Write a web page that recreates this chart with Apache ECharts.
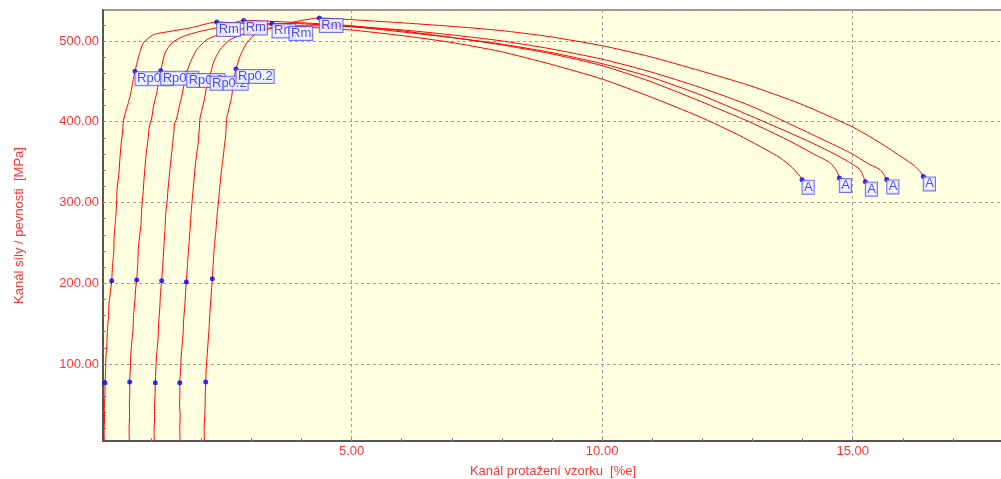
<!DOCTYPE html>
<html><head><meta charset="utf-8">
<script src="https://cdn.jsdelivr.net/npm/echarts@6/dist/echarts.min.js"></script>
<style>html,body{margin:0;padding:0;background:#fff}#c{width:1001px;height:479px}</style>
</head><body><div id="c"></div>
<script>
const xTitle = 'Kanál protažení vzorku  [%e]';
const yTitle = 'Kanál síly / pevnosti  [MPa]';
const xLabelValues = [5, 10, 15];
const xTickValues = [1, 2, 3, 4, 5, 6, 7, 8, 9, 10, 11, 12, 13, 14, 15, 16, 17];
const yLabelValues = [100, 200, 300, 400, 500];
const yTickValues = [20, 40, 60, 80, 100, 120, 140, 160, 180, 200, 220, 240, 260, 280, 300, 320, 340, 360, 380, 400, 420, 440, 460, 480, 500, 520];

const curve1 = [[0.066,5],[0.062,18],[0.072,32],[0.066,45],[0.078,60],[0.080,76.8],[0.092,92],[0.098,108],[0.118,125],[0.126,140],[0.150,160],[0.160,175],[0.190,190],[0.214,203.2],[0.228,220],[0.256,240],[0.262,258],[0.290,278],[0.313,300.1],[0.322,318],[0.356,335],[0.376,353],[0.398,370],[0.428,386],[0.445,399.7],[0.479,410],[0.540,422],[0.579,431.4],[0.645,452.1],[0.679,462.4],[0.744,478.9],[0.844,497.5],[1.044,507.8],[1.377,511.9],[1.776,516.1],[2.309,523.5],[2.974,521.4],[3.972,517.7],[5.003,513.5],[5.967,507.0],[6.965,498.5],[7.963,487.1],[8.961,471.5],[10.0,452.9],[10.958,431.0],[11.956,405.9],[12.752,382.7],[13.55,355.5],[13.8,343],[13.95,332.3],[13.99,328.2]];
const curve2 = [[0.565,5],[0.560,20],[0.570,35],[0.566,50],[0.575,64],[0.573,77.7],[0.585,95],[0.592,110],[0.612,126],[0.639,142.5],[0.650,160],[0.676,178],[0.690,192],[0.712,204.0],[0.735,225],[0.748,245],[0.778,262],[0.798,272.5],[0.812,292],[0.838,310],[0.858,328.2],[0.880,345],[0.905,362],[0.938,377.8],[0.960,392],[1.012,404.6],[1.050,420],[1.112,435.6],[1.150,450],[1.192,463.2],[1.278,485.1],[1.411,497.5],[1.643,505.7],[1.976,511.9],[2.441,518.1],[2.848,525.5],[3.972,522.7],[5.003,518.9],[5.967,512.8],[6.965,504.7],[7.963,495.5],[8.961,484.5],[10.0,469.5],[10.958,450.0],[11.956,425.5],[12.954,399.5],[13.69,377.8],[14.249,359.2],[14.549,349.3],[14.688,338.5],[14.734,330.3]];
const curve3 = [[1.064,5],[1.058,18],[1.070,34],[1.066,48],[1.080,62],[1.084,76.8],[1.094,92],[1.104,106],[1.120,118],[1.138,130.1],[1.150,150],[1.172,168],[1.186,186],[1.211,203.2],[1.232,222],[1.250,240],[1.277,266.4],[1.290,285],[1.318,300],[1.337,315.8],[1.362,332],[1.390,350],[1.417,365.4],[1.450,385],[1.470,398],[1.511,404.6],[1.560,418],[1.611,431.4],[1.660,447],[1.710,460.4],[1.777,472.8],[1.910,489.2],[2.110,501.6],[2.441,509.9],[2.908,516.1],[3.413,521.8],[3.972,521.4],[5.003,517.7],[5.967,511.5],[6.965,504.5],[7.963,496.5],[8.961,486.0],[10.0,472.0],[10.958,455.5],[11.956,433.5],[12.954,407.5],[14.05,377.8],[14.549,362.9],[14.948,349.3],[15.148,340.6],[15.253,325.8]];
const curve4 = [[1.577,5],[1.572,20],[1.580,36],[1.568,50],[1.575,64],[1.571,76.8],[1.588,92],[1.600,108],[1.618,122],[1.637,136.3],[1.650,155],[1.672,172],[1.688,188],[1.702,201.5],[1.722,220],[1.745,240],[1.777,266.4],[1.800,288],[1.830,310],[1.857,328.2],[1.880,345],[1.910,360],[1.936,371.6],[1.960,390],[1.976,404.6],[2.016,414.9],[2.076,431.4],[2.096,439.7],[2.140,450],[2.175,457.0],[2.241,472.8],[2.375,489.2],[2.574,501.6],[2.908,509.9],[3.373,516.1],[3.752,518.6],[4.371,518.9],[5.003,517.7],[5.967,514.0],[6.965,507.8],[7.963,500.4],[8.961,490.5],[10.0,477.5],[10.958,462.0],[11.956,442.5],[12.954,419.9],[14.409,377.8],[14.948,361.7],[15.347,346.8],[15.547,340.6],[15.680,328.6]];
const curve5 = [[2.062,5],[2.058,20],[2.070,35],[2.078,50],[2.082,64],[2.090,77.7],[2.100,95],[2.118,110],[2.136,126],[2.155,142.5],[2.170,160],[2.190,178],[2.205,192],[2.221,205.6],[2.240,225],[2.262,245],[2.295,266.4],[2.318,285],[2.350,305],[2.375,322.1],[2.405,340],[2.430,352],[2.455,365.4],[2.490,385],[2.509,404.6],[2.560,418],[2.608,431.4],[2.650,452],[2.694,465.3],[2.774,480.9],[2.908,497.5],[3.107,509.9],[3.506,518.1],[3.905,524.3],[4.357,528.5],[5.003,526.4],[5.967,522.7],[6.965,518.3],[7.963,513.1],[8.961,505.3],[10.0,494.2],[10.958,480.6],[11.956,463.2],[12.954,444.6],[13.95,422.4],[14.948,395.1],[15.347,381.5],[15.746,366.0],[16.205,346.8],[16.345,338.5],[16.41,332.3]];

const elasticLow = [[0.080,76.8],[0.573,77.7],[1.084,76.8],[1.571,76.8],[2.090,77.7]];
const elasticHigh = [[0.214,203.2],[0.712,204.0],[1.211,203.2],[1.702,201.5],[2.221,205.6]];
const rpPoints = [[0.679,462.4],[1.192,463.2],[1.710,460.4],[2.175,457.0],[2.694,465.3]];
const rmPoints = [[2.309,523.5],[2.848,525.5],[3.413,521.8],[3.752,518.6],[4.357,528.5]];
const aPoints = [[13.99,328.2],[14.734,330.3],[15.253,325.8],[15.680,328.6],[16.41,332.3]];

const FONT = 'Liberation Sans';
const RED = '#ff3333';
const chart = echarts.init(document.getElementById('c'), null, {renderer: 'canvas'});

const curveSeries = [curve1, curve2, curve3, curve4, curve5].map(d => ({
  type: 'line', data: d, showSymbol: false, symbol: 'none', animation: false, smooth: 0.2,
  lineStyle: {color: '#ff0000', width: 1}, z: 2, silent: true
}));
function labelled(data, text) {
  return {
    type: 'scatter', data: data, symbol: 'circle', symbolSize: 5, animation: false,
    itemStyle: {color: '#0000ff'}, z: 5,
    label: {
      show: true, formatter: text, position: [3, 3.5], align: 'left', verticalAlign: 'top',
      fontFamily: FONT, fontSize: 13, lineHeight: 13, color: '#2020ff',
      backgroundColor: '#eef1ff', borderColor: '#4d4dff', borderWidth: 1, padding: [0, 1, 0, 1.5]
    }
  };
}
const plain = d => ({type: 'scatter', data: d, symbol: 'circle', symbolSize: 5, animation: false,
  itemStyle: {color: '#0000ff'}, z: 5});

chart.setOption({
  backgroundColor: '#ffffff',
  animation: false,
  grid: {left: 103, top: 10, right: -2, bottom: 38, show: true, backgroundColor: '#ffffe0',
    borderColor: '#333333', borderWidth: 1, outerBoundsMode: 'none', containLabel: false},
  xAxis: [{
    type: 'value', min: 0.04, max: 18.0, splitNumber: 4, minInterval: 5,
    name: xTitle, nameLocation: 'middle', nameGap: 24,
    nameTextStyle: {color: RED, fontFamily: FONT, fontSize: 13},
    axisLine: {show: true, lineStyle: {color: '#555555', width: 2}},
    axisTick: {show: false},
    axisLabel: {customValues: xLabelValues, color: RED, fontFamily: FONT, fontSize: 13, margin: 4,
      formatter: v => v.toFixed(2)},
    splitLine: {show: true, lineStyle: {color: '#a0a0a0', type: [3, 3], width: 1}}
  }, {
    type: 'value', min: 0.04, max: 18.0, position: 'bottom',
    axisLine: {show: false},
    axisTick: {show: true, inside: true, length: 3, customValues: xTickValues, lineStyle: {color: '#888888'}},
    axisLabel: {show: false}, splitLine: {show: false}
  }],
  yAxis: [{
    type: 'value', min: 4.6, max: 538.4,
    name: yTitle, nameLocation: 'middle', nameGap: 77,
    nameTextStyle: {color: RED, fontFamily: FONT, fontSize: 13},
    axisLine: {show: true, lineStyle: {color: '#555555', width: 2}},
    axisTick: {show: false},
    axisLabel: {customValues: yLabelValues, color: RED, fontFamily: FONT, fontSize: 13, margin: 4,
      formatter: v => v.toFixed(2)},
    splitLine: {show: true, lineStyle: {color: '#a0a0a0', type: [3, 3], width: 1}}
  }, {
    type: 'value', min: 4.6, max: 538.4, position: 'left',
    axisLine: {show: false},
    axisTick: {show: true, inside: true, length: 3, customValues: yTickValues, lineStyle: {color: '#888888'}},
    axisLabel: {show: false}, splitLine: {show: false}
  }],
  series: [
    ...curveSeries,
    plain(elasticLow),
    plain(elasticHigh),
    labelled(rpPoints, 'Rp0.2'),
    labelled(rmPoints, 'Rm'),
    labelled(aPoints, 'A')
  ]
});
</script></body></html>
